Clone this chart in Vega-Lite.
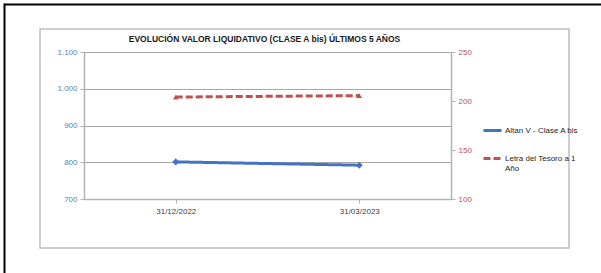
{
  "$schema": "https://vega.github.io/schema/vega-lite/v6.json",
  "autosize": "none",
  "width": 529,
  "height": 219,
  "padding": {"left": 40, "top": 29, "right": 32, "bottom": 25},
  "background": "white",
  "config": {
    "font": "Liberation Sans",
    "view": {"stroke": "#bfbfbf", "strokeWidth": 1.5},
    "axis": {"labelFont": "Liberation Sans", "labelFontSize": 8, "domainColor": "#b3b3b3", "tickColor": "#b3b3b3", "gridColor": "#a6a6a6", "title": null}
  },
  "title": {
    "text": "EVOLUCIÓN VALOR LIQUIDATIVO (CLASE A bis) ÚLTIMOS 5 AÑOS",
    "font": "Liberation Sans",
    "fontSize": 8.5,
    "fontWeight": "bold",
    "color": "#1a1a1a",
    "anchor": "middle",
    "dx": -40,
    "offset": -15,
    "dy": 35,
    "baseline": "alphabetic"
  },
  "data": {
    "values": [
      {"fecha": "31/12/2022", "serie": "Altan V - Clase A bis", "valor": 801},
      {"fecha": "31/03/2023", "serie": "Altan V - Clase A bis", "valor": 792},
      {"fecha": "31/12/2022", "serie": "Letra del Tesoro a 1 Año", "valor": 204},
      {"fecha": "31/03/2023", "serie": "Letra del Tesoro a 1 Año", "valor": 205.5}
    ]
  },
  "layer": [
    {
      "encoding": {
        "x": {
          "field": "fecha", "type": "ordinal", "sort": null,
          "scale": {"range": [44, 411], "paddingInner": 0, "paddingOuter": 0},
          "axis": {"offset": -49, "labelAngle": 0, "labelColor": "#404040", "tickSize": 4, "labelPadding": 4, "domainWidth": 1.5}
        },
        "color": {
          "field": "serie", "type": "nominal",
          "scale": {"domain": ["Altan V - Clase A bis", "Letra del Tesoro a 1 Año"], "range": ["#4472c4", "#c0504d"]},
          "legend": {
            "title": null, "orient": "none", "legendX": 442, "legendY": 91,
            "symbolType": "stroke", "symbolSize": 324, "symbolStrokeWidth": 3,
            "labelFont": "Liberation Sans", "labelFontSize": 8, "labelColor": "#262626",
            "labelOffset": 2, "rowPadding": 11, "labelLimit": 200,
            "labelExpr": "datum.label == 'Letra del Tesoro a 1 Año' ? ['Letra del Tesoro a 1', 'Año'] : datum.label"
          }
        },
        "strokeDash": {
          "field": "serie", "type": "nominal",
          "scale": {"domain": ["Altan V - Clase A bis", "Letra del Tesoro a 1 Año"], "range": [[1, 0], [7, 3]]},
          "legend": null
        }
      },
      "layer": [
        {
          "transform": [{"filter": "datum.serie == 'Altan V - Clase A bis'"}],
          "mark": {"type": "line", "strokeWidth": 3, "point": {"shape": "diamond", "size": 50, "filled": true, "color": "#4472c4"}},
          "encoding": {
            "y": {
              "field": "valor", "type": "quantitative",
              "scale": {"domain": [700, 1100], "range": [170, 23], "zero": false, "nice": false},
              "axis": {"orient": "left", "offset": -44, "values": [700, 800, 900, 1000, 1100], "labelExpr": "replace(format(datum.value, ',.0f'), ',', '.')", "labelColor": "#4f81bd", "grid": true, "tickSize": 4, "domainWidth": 1.5, "labelPadding": 3}
            }
          }
        },
        {
          "transform": [{"filter": "datum.serie == 'Letra del Tesoro a 1 Año'"}],
          "mark": {"type": "line", "strokeWidth": 3, "point": {"shape": "triangle-up", "size": 30, "filled": true, "color": "#c0504d"}},
          "encoding": {
            "y": {
              "field": "valor", "type": "quantitative",
              "scale": {"domain": [100, 250], "range": [170, 23], "zero": false, "nice": false},
              "axis": {"orient": "right", "offset": -118, "values": [100, 150, 200, 250], "labelColor": "#c0504d", "grid": false, "tickSize": 4, "domainWidth": 1.5, "labelPadding": 3}
            }
          }
        }
      ],
      "resolve": {"scale": {"y": "independent"}}
    },
    {
      "mark": {"type": "point", "opacity": 0},
      "encoding": {
        "x": {
          "field": "valor", "type": "quantitative",
          "scale": {"range": [-36, 610], "zero": false, "nice": false},
          "axis": {"orient": "top", "offset": 25, "labels": false, "ticks": false, "grid": false, "domainColor": "#000000", "domainWidth": 2}
        },
        "y": {
          "field": "valor", "type": "quantitative",
          "scale": {"range": [260, -26], "zero": false, "nice": false},
          "axis": {"orient": "left", "offset": 36, "labels": false, "ticks": false, "grid": false, "domainColor": "#000000", "domainWidth": 2}
        }
      }
    }
  ],
  "resolve": {"scale": {"x": "independent", "y": "independent"}, "axis": {"x": "independent", "y": "independent"}}
}
